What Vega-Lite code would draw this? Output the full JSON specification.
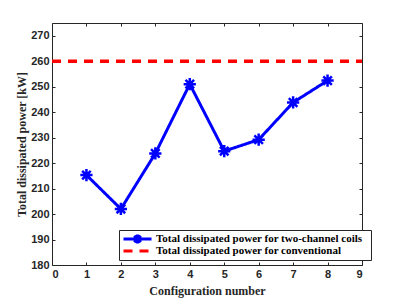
{
  "$schema": "https://vega.github.io/schema/vega-lite/v6.json",
  "width": 310,
  "height": 242,
  "autosize": {"type": "none"},
  "padding": {"left": 52, "top": 23, "right": 38, "bottom": 35},
  "background": "white",
  "data": {
    "values": [
      {"config": 1, "power": 215.3, "series": "Total dissipated  power for two-channel  coils"},
      {"config": 2, "power": 202.0, "series": "Total dissipated  power for two-channel  coils"},
      {"config": 3, "power": 223.8, "series": "Total dissipated  power for two-channel  coils"},
      {"config": 4, "power": 251.0, "series": "Total dissipated  power for two-channel  coils"},
      {"config": 5, "power": 224.7, "series": "Total dissipated  power for two-channel  coils"},
      {"config": 6, "power": 229.2, "series": "Total dissipated  power for two-channel  coils"},
      {"config": 7, "power": 243.8, "series": "Total dissipated  power for two-channel  coils"},
      {"config": 8, "power": 252.4, "series": "Total dissipated  power for two-channel  coils"},
      {"config": 0, "power": 260, "series": "Total dissipated power for conventional"},
      {"config": 9, "power": 260, "series": "Total dissipated power for conventional"}
    ]
  },
  "config": {
    "view": {"stroke": "#262626", "strokeWidth": 1},
    "axis": {
      "grid": false,
      "domain": false,
      "tickColor": "#262626",
      "tickSize": -3,
      "labelColor": "#262626",
      "labelFont": "Liberation Sans",
      "labelFontWeight": "bold",
      "labelFontSize": 11,
      "titleFont": "Liberation Serif",
      "titleFontWeight": "bold",
      "titleFontSize": 12,
      "titleColor": "#262626"
    },
    "legend": {
      "title": null,
      "orient": "none",
      "legendX": 67,
      "legendY": 207,
      "symbolSize": 100,
      "symbolStrokeWidth": 3,
      "symbolOffset": 9,
      "labelFont": "Liberation Serif",
      "labelFontWeight": "bold",
      "labelFontSize": 11,
      "labelColor": "black",
      "labelOffset": 12,
      "rowPadding": 0,
      "clipHeight": 12,
      "padding": 3,
      "strokeColor": "#262626",
      "fillColor": "white",
      "cornerRadius": 0,
      "labelLimit": 300
    }
  },
  "layer": [
    {
      "transform": [{"filter": "datum.power < 259"}],
      "mark": {"type": "line", "strokeWidth": 3},
      "encoding": {
        "x": {"field": "config", "type": "quantitative", "scale": {"domain": [0, 9], "nice": false},
              "axis": {"values": [0,1,2,3,4,5,6,7,8,9], "title": "Configuration number", "labelPadding": 6, "titlePadding": 6}},
        "y": {"field": "power", "type": "quantitative", "scale": {"domain": [180, 275], "nice": false, "zero": false},
              "axis": {"values": [180,190,200,210,220,230,240,250,260,270], "title": "Total dissipated power [kW]", "labelPadding": 6, "titlePadding": 2}},
        "color": {"field": "series", "type": "nominal",
                  "scale": {"domain": ["Total dissipated  power for two-channel  coils", "Total dissipated power for conventional"], "range": ["#0000ff", "#ff0000"]},
                  "legend": {
                    "encode": {
                      "symbols": {
                        "update": {
                          "shape": {"signal": "datum.value === 'Total dissipated  power for two-channel  coils' ? 'M-2.8,0L2.8,0M-0.9,0L0.9,0M0,-0.9L0,0.9M-0.65,-0.65L0.65,0.65M-0.65,0.65L0.65,-0.65' : 'M-2.8,0L2.8,0'"}
                        }
                      }
                    }
                  }},
        "strokeDash": {"field": "series", "type": "nominal",
                       "scale": {"domain": ["Total dissipated  power for two-channel  coils", "Total dissipated power for conventional"], "range": [[1, 0], [9, 7]]},
                       "legend": {
                    "encode": {
                      "symbols": {
                        "update": {
                          "shape": {"signal": "datum.value === 'Total dissipated  power for two-channel  coils' ? 'M-2.8,0L2.8,0M-0.9,0L0.9,0M0,-0.9L0,0.9M-0.65,-0.65L0.65,0.65M-0.65,0.65L0.65,-0.65' : 'M-2.8,0L2.8,0'"}
                        }
                      }
                    }
                  }}
      }
    },
    {
      "transform": [{"filter": "datum.power < 259"}],
      "mark": {"type": "point", "shape": "M-1,0L1,0M0,-1L0,1M-0.7,-0.7L0.7,0.7M-0.7,0.7L0.7,-0.7", "filled": false, "stroke": "#0000ff", "strokeWidth": 2.5, "size": 150, "opacity": 1},
      "encoding": {
        "x": {"field": "config", "type": "quantitative", "scale": {"domain": [0, 9], "nice": false}, "axis": null},
        "y": {"field": "power", "type": "quantitative", "scale": {"domain": [180, 275], "nice": false, "zero": false}, "axis": null}
      }
    },
    {
      "transform": [{"filter": "datum.power >= 259"}],
      "mark": {"type": "line", "strokeWidth": 3.5},
      "encoding": {
        "x": {"field": "config", "type": "quantitative", "scale": {"domain": [0, 9], "nice": false},
              "axis": {"orient": "top", "values": [0,1,2,3,4,5,6,7,8,9], "labels": false, "title": null}},
        "y": {"field": "power", "type": "quantitative", "scale": {"domain": [180, 275], "nice": false, "zero": false},
              "axis": {"orient": "right", "values": [180,190,200,210,220,230,240,250,260,270], "labels": false, "title": null}},
        "color": {"field": "series", "type": "nominal"},
        "strokeDash": {"field": "series", "type": "nominal"}
      }
    }
  ],
  "resolve": {"scale": {"x": "independent", "y": "independent"}}
}
